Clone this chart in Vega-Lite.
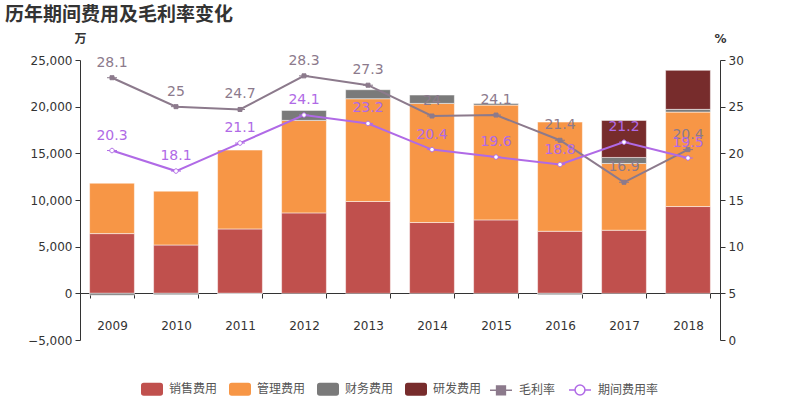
{
  "$schema": "https://vega.github.io/schema/vega-lite/v6.json",
  "width": 640,
  "height": 280,
  "autosize": {"type": "none"},
  "padding": {"left": 80, "top": 60, "right": 80, "bottom": 60},
  "background": "white",
  "title": {"text": "历年期间费用及毛利率变化", "anchor": "start", "frame": "group", "dx": -75, "fontSize": 19, "fontWeight": "bold", "color": "#333333", "font": "Noto Sans CJK SC", "offset": 7},
  "datasets": {
    "bars": [
      {"year": "2009", "type": "销售费用", "k": 1, "value": 6400},
      {"year": "2009", "type": "管理费用", "k": 2, "value": 5400},
      {"year": "2009", "type": "财务费用", "k": 3, "value": -200},
      {"year": "2010", "type": "销售费用", "k": 1, "value": 5180},
      {"year": "2010", "type": "管理费用", "k": 2, "value": 5770},
      {"year": "2010", "type": "财务费用", "k": 3, "value": -150},
      {"year": "2011", "type": "销售费用", "k": 1, "value": 6900},
      {"year": "2011", "type": "管理费用", "k": 2, "value": 8450},
      {"year": "2011", "type": "财务费用", "k": 3, "value": -50},
      {"year": "2012", "type": "销售费用", "k": 1, "value": 8620},
      {"year": "2012", "type": "管理费用", "k": 2, "value": 9910},
      {"year": "2012", "type": "财务费用", "k": 3, "value": 1070},
      {"year": "2013", "type": "销售费用", "k": 1, "value": 9840},
      {"year": "2013", "type": "管理费用", "k": 2, "value": 11010},
      {"year": "2013", "type": "财务费用", "k": 3, "value": 965},
      {"year": "2014", "type": "销售费用", "k": 1, "value": 7585},
      {"year": "2014", "type": "管理费用", "k": 2, "value": 12765},
      {"year": "2014", "type": "财务费用", "k": 3, "value": 895},
      {"year": "2015", "type": "销售费用", "k": 1, "value": 7870},
      {"year": "2015", "type": "管理费用", "k": 2, "value": 12300},
      {"year": "2015", "type": "财务费用", "k": 3, "value": 180},
      {"year": "2016", "type": "销售费用", "k": 1, "value": 6650},
      {"year": "2016", "type": "管理费用", "k": 2, "value": 11700},
      {"year": "2016", "type": "财务费用", "k": 3, "value": -150},
      {"year": "2017", "type": "销售费用", "k": 1, "value": 6760},
      {"year": "2017", "type": "管理费用", "k": 2, "value": 7155},
      {"year": "2017", "type": "财务费用", "k": 3, "value": 645},
      {"year": "2017", "type": "研发费用", "k": 4, "value": 3970},
      {"year": "2018", "type": "销售费用", "k": 1, "value": 9300},
      {"year": "2018", "type": "管理费用", "k": 2, "value": 10120},
      {"year": "2018", "type": "财务费用", "k": 3, "value": 290},
      {"year": "2018", "type": "研发费用", "k": 4, "value": 4185}
    ],
    "rates": [
      {"year": "2009", "series": "毛利率", "rate": 28.1},
      {"year": "2010", "series": "毛利率", "rate": 25},
      {"year": "2011", "series": "毛利率", "rate": 24.7},
      {"year": "2012", "series": "毛利率", "rate": 28.3},
      {"year": "2013", "series": "毛利率", "rate": 27.3},
      {"year": "2014", "series": "毛利率", "rate": 24},
      {"year": "2015", "series": "毛利率", "rate": 24.1},
      {"year": "2016", "series": "毛利率", "rate": 21.4},
      {"year": "2017", "series": "毛利率", "rate": 16.9},
      {"year": "2018", "series": "毛利率", "rate": 20.4},
      {"year": "2009", "series": "期间费用率", "rate": 20.3},
      {"year": "2010", "series": "期间费用率", "rate": 18.1},
      {"year": "2011", "series": "期间费用率", "rate": 21.1},
      {"year": "2012", "series": "期间费用率", "rate": 24.1},
      {"year": "2013", "series": "期间费用率", "rate": 23.2},
      {"year": "2014", "series": "期间费用率", "rate": 20.4},
      {"year": "2015", "series": "期间费用率", "rate": 19.6},
      {"year": "2016", "series": "期间费用率", "rate": 18.8},
      {"year": "2017", "series": "期间费用率", "rate": 21.2},
      {"year": "2018", "series": "期间费用率", "rate": 19.5}
    ]
  },
  "layer": [
    {
      "data": {"name": "bars"},
      "mark": {"type": "bar", "stroke": "#ffffff", "strokeOpacity": 0.5, "strokeWidth": 1},
      "encoding": {
        "x": {"field": "year", "type": "ordinal", "scale": {"paddingInner": 0.3, "paddingOuter": 0.15},
          "axis": {"title": null, "labelAngle": 0, "offset": -47, "tickBand": "extent", "tickSize": 5, "labelPadding": 22, "domainColor": "#333333", "tickColor": "#333333", "labelColor": "#333333", "labelFontSize": 12, "labelFont": "DejaVu Sans"}},
        "y": {"field": "value", "type": "quantitative", "stack": "zero", "scale": {"domain": [-5000, 25000], "nice": false},
          "axis": {"title": "万", "titleAngle": 0, "titleX": 0, "titleY": -22, "titleAlign": "center", "titleBaseline": "middle", "titleFontSize": 12, "titleFont": "Noto Sans CJK SC", "titleFontWeight": "bold", "titleColor": "#333333", "values": [-5000, 0, 5000, 10000, 15000, 20000, 25000], "format": ",.0f", "tickSize": 5, "labelPadding": 3, "grid": false, "domainColor": "#333333", "tickColor": "#333333", "labelColor": "#333333", "labelFontSize": 12, "labelFont": "DejaVu Sans"}},
        "color": {"field": "type", "type": "nominal",
          "scale": {"domain": ["销售费用", "管理费用", "财务费用", "研发费用"], "range": ["#c0504d", "#f79646", "#7a7a7a", "#772c2c"]},
          "legend": {"orient": "none", "legendX": 61, "legendY": 318, "direction": "horizontal", "title": null, "columnPadding": 11,
            "symbolType": "M-0.75,-0.59L0.75,-0.59Q1,-0.59,1,-0.34L1,0.34Q1,0.59,0.75,0.59L-0.75,0.59Q-1,0.59,-1,0.34L-1,-0.34Q-1,-0.59,-0.75,-0.59Z",
            "symbolStrokeColor": "transparent", "symbolStrokeWidth": 0}},
        "order": {"field": "k", "type": "quantitative"}
      }
    },
    {
      "data": {"name": "rates"},
      "encoding": {
        "x": {"field": "year", "type": "ordinal"},
        "y": {"field": "rate", "type": "quantitative", "scale": {"domain": [0, 30], "nice": false},
          "axis": {"orient": "right", "title": "%", "titleAngle": 0, "titleX": 0, "titleY": -22, "titleAlign": "center", "titleBaseline": "middle", "titleFontSize": 12, "titleFont": "DejaVu Sans", "titleFontWeight": "bold", "titleColor": "#333333", "values": [0, 5, 10, 15, 20, 25, 30], "tickSize": 5, "labelPadding": 3, "grid": false, "domainColor": "#333333", "tickColor": "#333333", "labelColor": "#333333", "labelFontSize": 12, "labelFont": "DejaVu Sans"}}
      },
      "layer": [
        {"transform": [{"filter": "datum.series === '毛利率'"}], "mark": {"type": "line", "color": "#8c7a8c", "strokeWidth": 2}},
        {"transform": [{"filter": "datum.series === '期间费用率'"}], "mark": {"type": "line", "color": "#b06ae6", "strokeWidth": 2}},
        {"mark": {"type": "point", "size": 100, "strokeWidth": 1, "opacity": 1},
          "encoding": {
            "shape": {"field": "series", "type": "nominal", "scale": {"domain": ["毛利率", "期间费用率"], "range": ["M-1,0L-0.4,0M0.4,0L1,0M-0.4,-0.4L0.4,-0.4L0.4,0.4L-0.4,0.4Z", "M-1,0L-0.45,0M0.45,0L1,0M0.45,0A0.45,0.45,0,1,1,-0.45,0A0.45,0.45,0,1,1,0.45,0Z"]},
              "legend": {"orient": "none", "legendX": 409, "legendY": 318, "direction": "horizontal", "title": null, "symbolStrokeWidth": 1.5}},
            "fill": {"field": "series", "type": "nominal", "scale": {"domain": ["毛利率", "期间费用率"], "range": ["#8c7a8c", "#ffffff"]},
              "legend": {"orient": "none", "legendX": 409, "legendY": 318, "direction": "horizontal", "title": null, "symbolStrokeWidth": 1.5}},
            "stroke": {"field": "series", "type": "nominal", "scale": {"domain": ["毛利率", "期间费用率"], "range": ["#8c7a8c", "#b06ae6"]},
              "legend": {"orient": "none", "legendX": 409, "legendY": 318, "direction": "horizontal", "title": null, "symbolStrokeWidth": 1.5}}
          }},
        {"transform": [{"filter": "datum.series === '毛利率'"}], "mark": {"type": "text", "dy": -15, "fontSize": 14, "color": "#8c7a8c", "font": "DejaVu Sans"}, "encoding": {"text": {"field": "rate", "type": "quantitative"}}},
        {"transform": [{"filter": "datum.series === '期间费用率'"}], "mark": {"type": "text", "dy": -15, "fontSize": 14, "color": "#b06ae6", "font": "DejaVu Sans"}, "encoding": {"text": {"field": "rate", "type": "quantitative"}}}
      ]
    }
  ],
  "resolve": {"scale": {"y": "independent"}},
  "config": {"view": {"stroke": null}, "font": "DejaVu Sans",
    "legend": {"symbolSize": 484, "labelFontSize": 12, "labelFont": "Noto Sans CJK SC", "labelColor": "#555555", "columnPadding": 10, "labelOffset": 6, "padding": 0}}
}
